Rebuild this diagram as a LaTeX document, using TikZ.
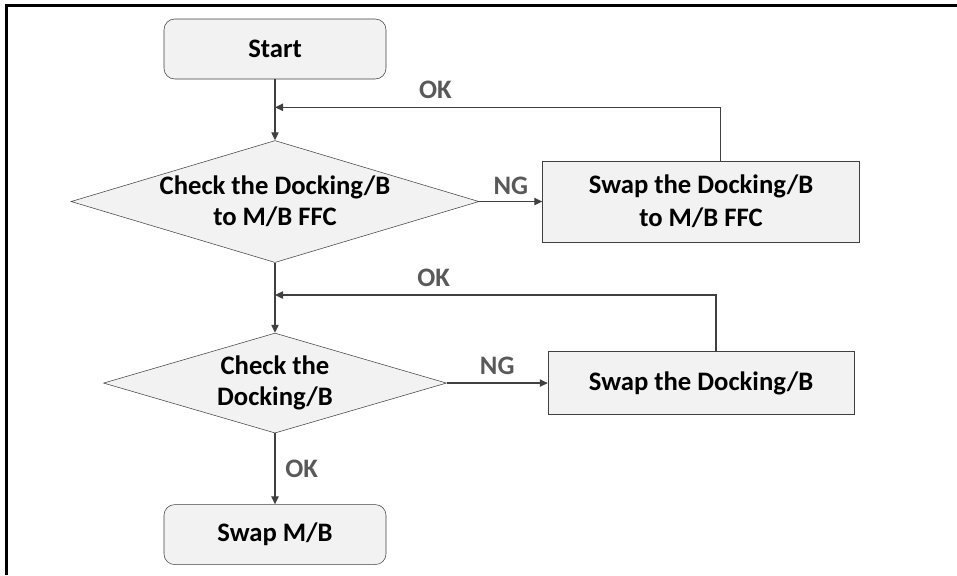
\documentclass[tikz,border=0pt]{standalone}
\usepackage{fontspec}
\setmainfont{Carlito}
\usepackage{tikz}
\usetikzlibrary{arrows.meta, positioning, shapes.geometric, calc}
\definecolor{cfill}{RGB}{242,242,242}
\definecolor{cline}{RGB}{64,64,64}
\definecolor{clbl}{RGB}{89,89,89}

\begin{document}
\begin{tikzpicture}[
  x=0.75pt, y=-0.75pt,
  term/.style     = {rectangle, rounded corners=8pt, draw=cline, fill=cfill,
                     minimum width=166.5pt, minimum height=45pt,
                     font=\bfseries\fontsize{20}{24}\selectfont},
  proc/.style     = {rectangle, draw=cline, fill=cfill, align=center,
                     font=\bfseries\fontsize{20}{25}\selectfont},
  decide/.style   = {diamond, aspect=3.4, inner sep=0pt, draw=cline, fill=cfill,
                     align=center, font=\bfseries\fontsize{20}{23.5}\selectfont},
  arr/.style      = {-{Triangle[length=6pt, width=5.5pt]}, cline, line width=0.9pt},
  lbl/.style      = {font=\bfseries\fontsize{20}{24}\selectfont, text=clbl},
]

%% --- frame ---
\useasboundingbox (0,0) rectangle (957,575);
\draw[line width=2.4pt] (6.2,575) -- (6.2,5.3) -- (957,5.3);

%% --- main column ---
\node[term] (start) at (275,49) {Start};
\node[decide, minimum width=306pt, minimum height=91.5pt,
      below=45.75pt of start] (chk1) {Check the Docking/B\\to M/B FFC};
\node[decide, minimum width=257.25pt, minimum height=75pt,
      below=52.5pt of chk1] (chk2) {Check the\\Docking/B};
\node[term, below=53.25pt of chk2] (swapmb) {Swap M/B};

%% --- swap boxes ---
\node[proc, minimum width=237.75pt, minimum height=60.75pt,
      right=47.25pt of chk1] (swap1) {Swap the Docking/B\\to M/B FFC};
\node[proc, minimum width=229.5pt, minimum height=47.25pt,
      right=75.75pt of chk2] (swap2) {Swap the Docking/B};

%% --- join points ---
\coordinate (ok1) at ($(start.south)!0.46!(chk1.north)$);
\coordinate (ok2) at ($(chk1.south)!0.46!(chk2.north)$);

%% --- arrows ---
\draw[arr] (start) -- (chk1);
\draw[arr] (chk1) -- (chk2);
\draw[arr] (chk2) -- node[right, lbl, xshift=4pt]{OK} (swapmb);
\draw[arr] (chk1) -- node[above, lbl, yshift=1.5pt]{NG} (swap1);
\draw[arr] (chk2) -- node[above, lbl, yshift=2.5pt]{NG} (swap2);
\draw[arr] ([xshift=14.6pt]swap1.north) |- node[pos=0.82, above, lbl, yshift=3pt]{OK} (ok1);
\draw[arr] ([xshift=11.25pt]swap2.north) |- node[pos=0.82, above, lbl, yshift=2.5pt]{OK} (ok2);

\end{tikzpicture}
\end{document}
